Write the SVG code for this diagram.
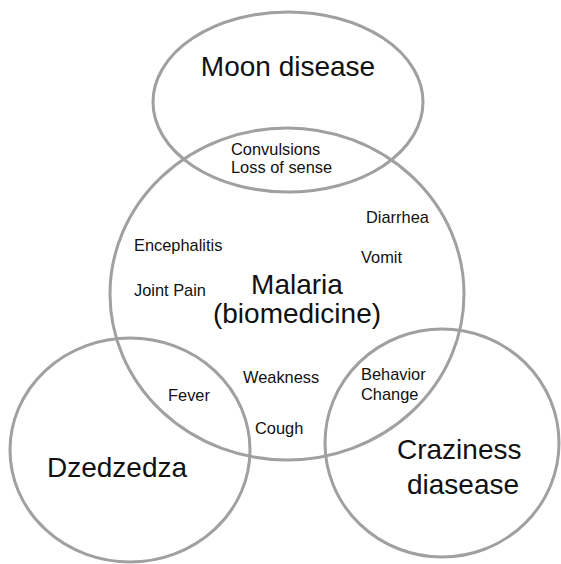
<svg xmlns="http://www.w3.org/2000/svg" width="561" height="564" viewBox="0 0 561 564">
<style>
.c{fill:none;stroke:#a0a0a0;stroke-width:3}
.t{font-family:"Liberation Sans",Arial,sans-serif;fill:#111}
.big{font-size:28px}
.sm{font-size:16.4px}
</style>
<rect width="561" height="564" fill="#fff"/>
<g id="moon">
<ellipse class="c" cx="288" cy="102" rx="135" ry="90"/>
<text class="t big" x="288" y="76" text-anchor="middle">Moon disease</text>
</g>
<g id="malaria">
<ellipse class="c" cx="287" cy="294" rx="177" ry="166"/>
<text class="t big" x="297" y="294" text-anchor="middle">Malaria</text>
<text class="t big" x="297" y="323" text-anchor="middle">(biomedicine)</text>
</g>
<g id="dzedzedza">
<ellipse class="c" cx="130" cy="450" rx="120" ry="112"/>
<text class="t big" x="47" y="477">Dzedzedza</text>
</g>
<g id="craziness">
<ellipse class="c" cx="442" cy="443" rx="117" ry="114"/>
<text class="t big" x="397" y="459">Craziness</text>
<text class="t big" x="407" y="494">diasease</text>
</g>
<g id="labels">
<text class="t sm" x="231" y="155">Convulsions</text>
<text class="t sm" x="231" y="173">Loss of sense</text>
<text class="t sm" x="366" y="223">Diarrhea</text>
<text class="t sm" x="134" y="251">Encephalitis</text>
<text class="t sm" x="361" y="263">Vomit</text>
<text class="t sm" x="134" y="296">Joint Pain</text>
<text class="t sm" x="243" y="383">Weakness</text>
<text class="t sm" x="168" y="401">Fever</text>
<text class="t sm" x="255" y="434">Cough</text>
<text class="t sm" x="361" y="380">Behavior</text>
<text class="t sm" x="361" y="400">Change</text>
</g>
<g id="connectors"/>
</svg>
